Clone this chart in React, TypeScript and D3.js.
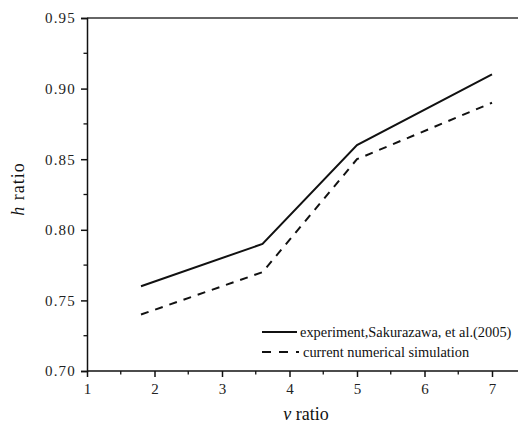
import React, { useEffect, useRef } from 'react';
import * as d3 from 'd3';

const vRatio = [1.8, 3.6, 5, 7];
const experiment = [0.76, 0.79, 0.86, 0.91];
const simulation = [0.74, 0.77, 0.85, 0.89];
const xTicks = [1, 2, 3, 4, 5, 6, 7];
const yTicks = [0.7, 0.75, 0.8, 0.85, 0.9, 0.95];
const seriesNames = [
  'experiment,Sakurazawa, et al.(2005)',
  'current numerical simulation',
];

const W = 518;
const H = 424;
const FONT = 'Liberation Serif, DejaVu Serif, serif';

function App() {
  const svgRef = useRef<SVGSVGElement>(null);

  useEffect(() => {
    const svg = d3.select(svgRef.current);
    svg.selectAll('*').remove();

    const x = d3.scaleLinear().domain([1, 7.4]).range([87, 519]);
    const y = d3.scaleLinear().domain([0.7, 0.95]).range([371, 18]);

    // frame: top line + axes
    svg
      .append('line')
      .attr('x1', x(1))
      .attr('x2', W)
      .attr('y1', y(0.95))
      .attr('y2', y(0.95))
      .attr('stroke', '#333')
      .attr('stroke-width', 1.5);

    const xAxis = d3
      .axisBottom(x)
      .tickValues(xTicks)
      .tickSize(6)
      .tickPadding(6)
      .tickFormat(d3.format('d') as any);
    const gx = svg
      .append('g')
      .attr('transform', `translate(0,${y(0.7)})`)
      .call(xAxis);
    gx.select('.domain').attr('d', `M${x(1)},0H${W}`);

    const yAxis = d3
      .axisLeft(y)
      .tickValues(yTicks)
      .tickSize(6)
      .tickPadding(5)
      .tickFormat(d3.format('.2f') as any);
    const gy = svg
      .append('g')
      .attr('transform', `translate(${x(1)},0)`)
      .call(yAxis);

    [gx, gy].forEach(g => {
      g.attr('font-family', null).attr('font-size', null);
      g.selectAll('path,line').attr('stroke', '#111').attr('stroke-width', 1.5);
      g.selectAll('text')
        .style('font-family', FONT)
        .style('font-size', '15px')
        .attr('fill', '#222');
    });
    gy.selectAll('text').attr('letter-spacing', 1.2);

    // minor ticks
    const xMinor = d3.range(1.5, 7, 1);
    svg
      .append('g')
      .selectAll('line')
      .data(xMinor)
      .join('line')
      .attr('x1', d => x(d))
      .attr('x2', d => x(d))
      .attr('y1', y(0.7))
      .attr('y2', y(0.7) + 3.5)
      .attr('stroke', '#111')
      .attr('stroke-width', 1.3);

    const yMinor = d3.range(0.725, 0.95, 0.05);
    svg
      .append('g')
      .selectAll('line')
      .data(yMinor)
      .join('line')
      .attr('x1', x(1) - 3.5)
      .attr('x2', x(1))
      .attr('y1', d => y(d))
      .attr('y2', d => y(d))
      .attr('stroke', '#111')
      .attr('stroke-width', 1.3);

    // lines
    const line = d3
      .line<[number, number]>()
      .x(d => x(d[0]))
      .y(d => y(d[1]));

    svg
      .append('path')
      .attr('d', line(vRatio.map((v, i) => [v, experiment[i]]) as any))
      .attr('fill', 'none')
      .attr('stroke', '#111')
      .attr('stroke-width', 2);

    svg
      .append('path')
      .attr('d', line(vRatio.map((v, i) => [v, simulation[i]]) as any))
      .attr('fill', 'none')
      .attr('stroke', '#111')
      .attr('stroke-width', 2)
      .attr('stroke-dasharray', '8,7');

    // legend
    const legend = svg.append('g');
    const dashes = ['none', '9,8'];
    seriesNames.forEach((name, i) => {
      const ly = 332 + i * 20;
      legend
        .append('line')
        .attr('x1', 262)
        .attr('x2', i === 0 ? 297 : 299)
        .attr('y1', ly)
        .attr('y2', ly)
        .attr('stroke', '#111')
        .attr('stroke-width', 2)
        .attr('stroke-dasharray', dashes[i]);
      legend
        .append('text')
        .attr('x', i === 0 ? 300 : 303)
        .attr('y', ly + 5)
        .style('font-family', FONT)
        .style('font-size', '14.4px')
        .attr('fill', '#111')
        .text(name);
    });

    // axis titles
    const xt = svg
      .append('text')
      .attr('x', 306)
      .attr('y', 420)
      .attr('text-anchor', 'middle')
      .style('font-family', FONT)
      .style('font-size', '18px')
      .attr('fill', '#111');
    xt.append('tspan').attr('font-style', 'italic').text('v');
    xt.append('tspan').text(' ratio');

    const yt = svg
      .append('text')
      .attr('transform', `translate(24,189) rotate(-90)`)
      .attr('text-anchor', 'middle')
      .style('font-family', FONT)
      .style('font-size', '18px')
      .attr('letter-spacing', 1)
      .attr('fill', '#111');
    yt.append('tspan').attr('font-style', 'italic').text('h');
    yt.append('tspan').text(' ratio');
  }, []);

  return (
    <div style={{ position: 'absolute', left: 0, top: 0, width: W, height: H, background: '#fff' }}>
      <svg ref={svgRef} width={W} height={H} style={{ display: 'block' }}></svg>
    </div>
  );
}

export default App;
